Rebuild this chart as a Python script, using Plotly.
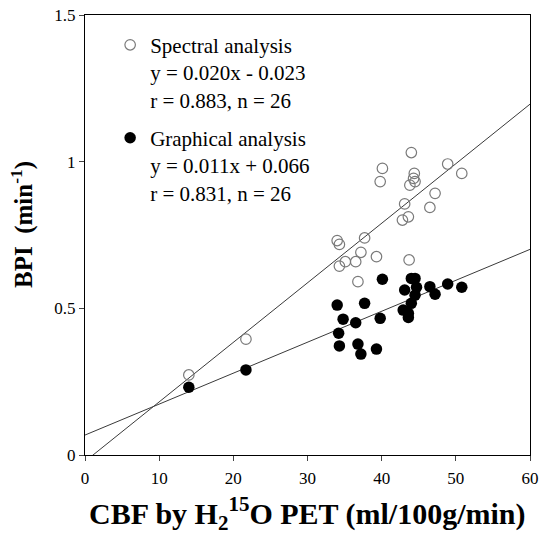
import plotly.graph_objects as go

# Spectral analysis (open circles)
spec_x = [14.0, 21.7, 34.0, 34.3, 37.7, 37.2, 35.1, 34.3, 36.5, 39.3, 36.8, 43.7, 39.8,
          40.1, 44.0, 44.4, 43.8, 44.5, 43.1, 42.8, 43.6, 47.2, 46.5, 48.9, 50.8, 44.3]
spec_y = [0.273, 0.395, 0.731, 0.718, 0.740, 0.691, 0.659, 0.644, 0.659, 0.676, 0.591, 0.665, 0.932,
          0.977, 1.031, 0.960, 0.920, 0.932, 0.856, 0.801, 0.812, 0.892, 0.844, 0.992, 0.960, 0.943]

# Graphical analysis (filled circles)
graph_x = [14.0, 21.7, 34.0, 34.8, 36.5, 37.7, 39.8, 40.1, 34.2, 34.3, 36.8, 37.2, 39.3,
           43.1, 44.0, 44.5, 44.7, 44.5, 44.0, 42.9, 43.6, 43.6, 46.5, 47.2, 48.9, 50.8]
graph_y = [0.231, 0.290, 0.511, 0.463, 0.451, 0.517, 0.466, 0.599, 0.415, 0.372, 0.378, 0.344, 0.361,
           0.5625, 0.602, 0.602, 0.572, 0.545, 0.517, 0.494, 0.483, 0.469, 0.574, 0.548, 0.583, 0.572]

# Regression lines (slope, intercept) as drawn
spec_fit = (0.0203, -0.022)
graph_fit = (0.01055, 0.068)
line_x = [0, 60]

x_ticks = [0, 10, 20, 30, 40, 50, 60]
y_ticks = [0, 0.5, 1, 1.5]
y_tick_labels = ["0", "0.5", "1", "1.5"]

spec_label = "Spectral analysis<br>y = 0.020x - 0.023<br>r = 0.883, n = 26"
graph_label = "Graphical analysis<br>y = 0.011x + 0.066<br>r = 0.831, n = 26"
x_title = "<b>CBF by H<sub>2</sub><sup>15</sup>O PET (ml/100g/min)</b>"
y_title = "<b>BPI  (min<sup>-1</sup>)</b>"

FONT = "Liberation Serif"

fig = go.Figure()

fig.add_trace(go.Scatter(
    x=line_x, y=[spec_fit[0] * v + spec_fit[1] for v in line_x], mode="lines",
    line=dict(color="#3a3a3a", width=1), showlegend=False, hoverinfo="skip"))
fig.add_trace(go.Scatter(
    x=line_x, y=[graph_fit[0] * v + graph_fit[1] for v in line_x], mode="lines",
    line=dict(color="#3a3a3a", width=1), showlegend=False, hoverinfo="skip"))

fig.add_trace(go.Scatter(
    x=spec_x, y=spec_y, mode="markers",
    marker=dict(symbol="circle-open", size=10.5, color="#7a7a7a", line=dict(width=1.2)),
    name=spec_label, legendgroup="a"))
fig.add_trace(go.Scatter(
    x=graph_x, y=graph_y, mode="markers",
    marker=dict(symbol="circle", size=11.5, color="black"),
    name=graph_label, legendgroup="b"))

fig.add_annotation(text=x_title, xref="paper", yref="paper", x=0.5, y=-0.132,
                   xanchor="center", yanchor="middle", showarrow=False,
                   font=dict(family=FONT, size=30, color="black"))
fig.add_annotation(text=y_title, xref="paper", yref="paper", x=-0.1416, y=0.525,
                   xanchor="center", yanchor="middle", showarrow=False, textangle=-90,
                   font=dict(family=FONT, size=25, color="black"))

fig.update_layout(
    width=545, height=542,
    margin=dict(l=85, r=15, t=15, b=87),
    plot_bgcolor="white", paper_bgcolor="white",
    font=dict(family=FONT, color="black", size=17),
    legend=dict(x=0.0565, y=0.978, xanchor="left", yanchor="top",
                bgcolor="rgba(0,0,0,0)", font=dict(family=FONT, size=21),
                valign="top", tracegroupgap=8, itemwidth=30),
    xaxis=dict(range=[0, 60], tickvals=x_ticks, ticks="outside", ticklen=5,
               showgrid=False, zeroline=False, showline=True, linecolor="black",
               linewidth=1, mirror=True, automargin=False, ticklabelstandoff=3,
               ticklabeloverflow="allow", tickfont=dict(family=FONT, size=17)),
    yaxis=dict(range=[0, 1.5], tickvals=y_ticks, ticktext=y_tick_labels, ticks="outside",
               ticklen=5, showgrid=False, zeroline=False, showline=True, linecolor="black",
               linewidth=1, mirror=True, automargin=False, ticklabeloverflow="allow",
               tickfont=dict(family=FONT, size=17)),
)

fig.write_html("out.html", config={"displayModeBar": False},
               post_script="document.body.style.margin='0';")
